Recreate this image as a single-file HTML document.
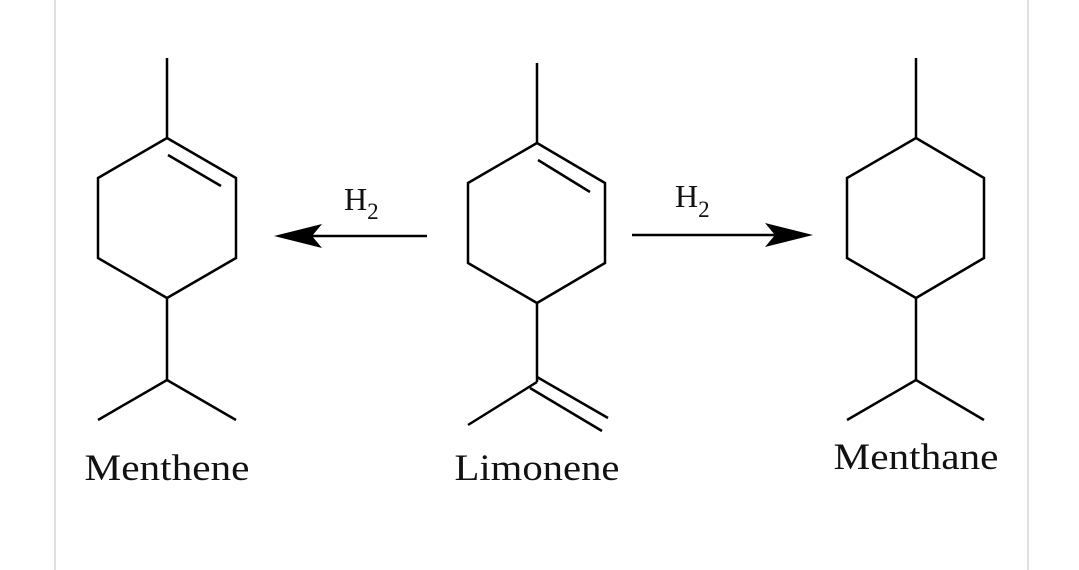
<!DOCTYPE html>
<html><head><style>
html,body{margin:0;padding:0;background:#fff;width:1079px;height:570px;overflow:hidden}
svg text{font-family:"Liberation Serif",serif;fill:#111}
</style></head><body>
<svg width="1079" height="570" viewBox="0 0 1079 570" xmlns="http://www.w3.org/2000/svg">
<line x1="55" y1="0" x2="55" y2="570" stroke="#e0e0e0" stroke-width="2"/>
<line x1="1028" y1="0" x2="1028" y2="570" stroke="#e0e0e0" stroke-width="2"/>
<g stroke="#000" stroke-width="2.5" fill="none" stroke-linejoin="miter">
<polyline points="167,58 167,138"/>
<polygon points="167,138 236,178 236,258 167,298 98,258 98,178"/>
<line x1="168" y1="155" x2="221" y2="186"/>
<polyline points="167,298 167,380"/>
<polyline points="98,420 167,380 236,420"/>
<polyline points="537,63 537,143"/>
<polygon points="537,143 605,183 605,263 537,303 468,263 468,183"/>
<line x1="538" y1="160" x2="590" y2="192"/>
<polyline points="537,303 537,382"/>
<line x1="537" y1="382" x2="468" y2="425"/>
<line x1="537" y1="377" x2="608" y2="418"/>
<line x1="530" y1="388" x2="602" y2="431"/>
<polyline points="916,58 916,138"/>
<polygon points="916,138 984,178 984,258 916,298 847,258 847,178"/>
<polyline points="916,298 916,380"/>
<polyline points="847,420 916,380 984,420"/>
<line x1="427" y1="236" x2="300" y2="236"/>
<line x1="632" y1="235" x2="790" y2="235"/>
</g>
<polygon points="274,236 322,224 312,236 322,248" fill="#000"/>
<polygon points="813,235 765,223 775,235 765,247" fill="#000"/>
<text x="344" y="210" font-size="32">H<tspan font-size="23" dy="9">2</tspan></text>
<text x="675" y="207" font-size="32">H<tspan font-size="23" dy="10">2</tspan></text>
<text x="167" y="480" font-size="37" text-anchor="middle" textLength="165" lengthAdjust="spacingAndGlyphs">Menthene</text>
<text x="537" y="480" font-size="37" text-anchor="middle" textLength="165" lengthAdjust="spacingAndGlyphs">Limonene</text>
<text x="916" y="469" font-size="37" text-anchor="middle" textLength="165" lengthAdjust="spacingAndGlyphs">Menthane</text>
</svg>
</body></html>
